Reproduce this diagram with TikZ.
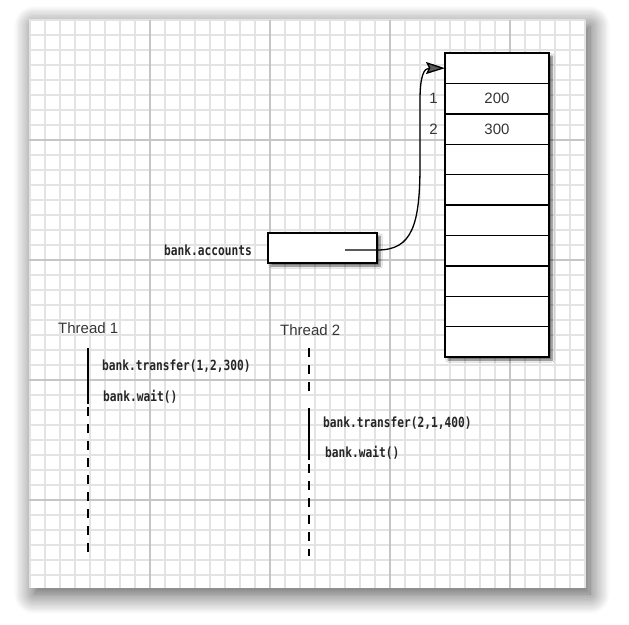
\documentclass[tikz,border=0pt]{standalone}
\usepackage{fontspec}
\setmainfont{Liberation Sans}
\newfontfamily\codefont[FakeStretch=0.8]{DejaVu Sans Mono Bold}
\usetikzlibrary{positioning,shadows.blur,arrows.meta}

\definecolor{minorgrid}{HTML}{E3E3E3}
\definecolor{majorgrid}{HTML}{C6C6C6}
\definecolor{labelgray}{HTML}{363636}

\tikzset{
  refbox/.style={draw, line width=1.4pt, fill=white, inner sep=0pt,
    blur shadow={shadow xshift=3pt, shadow yshift=-3pt, shadow blur steps=6, shadow opacity=60}},
  cell/.style={draw, line width=1.4pt, fill=white, minimum width=104pt, minimum height=30.4pt,
    inner sep=0pt, outer sep=0pt, font=\fontsize{15}{15}\selectfont, text=labelgray},
  code/.style={font=\codefont\fontsize{14}{14}\selectfont, text=black!85, inner sep=0pt},
  plain/.style={font=\fontsize{15}{15}\selectfont, text=labelgray, inner sep=0pt},
  busy/.style={line width=1.6pt},
  waiting/.style={line width=1.6pt, dash pattern=on 9pt off 8pt},
  pointer/.style={line width=1.3pt, -{Stealth[length=19pt, width=12pt, inset=3pt]}},
}

\begin{document}
\begin{tikzpicture}[x=1pt, y=-1pt]
  \useasboundingbox (0,0) rectangle (629,624);

  % graph paper
  \fill[white, blur shadow={shadow xshift=5pt, shadow yshift=-6pt, shadow blur radius=20pt,
      shadow blur steps=16, shadow opacity=70}]
    (29,20) rectangle (585,588);
  \foreach \x in {30,45,...,585} \draw[minorgrid, line width=1.1pt] (\x,20) -- (\x,588);
  \foreach \y in {20,35,...,588} \draw[minorgrid, line width=1.1pt] (29,\y) -- (585,\y);
  \foreach \x in {150,270,...,510} \draw[majorgrid, line width=1.1pt] (\x,20) -- (\x,588);
  \foreach \y in {140,260,...,500} \draw[majorgrid, line width=1.1pt] (29,\y) -- (585,\y);

  % accounts array
  \node[refbox, minimum width=104pt, minimum height=304pt] (array) at (497,205) {};
  \foreach \i/\amount in {1/{},2/200,3/300,4/{},5/{},6/{},7/{},8/{},9/{},10/{}}
    \node[cell] (cell\i) at (497,{37.8+30.4*\i}) {\amount};
  \node[plain, left=7pt of cell2] (idx1) {1};
  \node[plain, left=7pt of cell3] (idx2) {2};

  \node[refbox, minimum width=109pt, minimum height=30pt] (accounts) at (322.5,248) {};
  \node[code, anchor=east] (accountslabel) at (252,250) {bank.accounts};
  \coordinate (ptr) at (345,250);
  \draw[pointer] (ptr) -- (accounts.east |- ptr)
    .. controls (412,250) and (420,225) .. (420,165) -- (420,100)
    .. controls (420,76) and (424,68) .. (cell1.west);

  % threads
  \node[plain, anchor=west] (thread1) at (58,328) {Thread 1};
  \node[plain, anchor=west] (thread2) at (280,330) {Thread 2};

  \coordinate (t1a) at (88,348);
  \coordinate (t1b) at (88,404);
  \coordinate (t1c) at (88,552);
  \draw[busy] (t1a) -- (t1b);
  \draw[waiting] (t1b) ++(0,3) -- (t1c);
  \node[code, anchor=west] (transfer1) at (102,366) {bank.transfer(1,2,300)};
  \node[code, anchor=west] (wait1) at (103,397) {bank.wait()};

  \coordinate (t2a) at (309,348);
  \coordinate (t2b) at (309,408);
  \coordinate (t2c) at (309,460);
  \coordinate (t2d) at (309,556);
  \draw[waiting] (t2a) -- (309,398);
  \draw[busy] (t2b) -- (t2c);
  \draw[waiting] (t2c) ++(0,4) -- (t2d);
  \node[code, anchor=west] (transfer2) at (323,423) {bank.transfer(2,1,400)};
  \node[code, anchor=west] (wait2) at (325,453) {bank.wait()};
\end{tikzpicture}
\end{document}
